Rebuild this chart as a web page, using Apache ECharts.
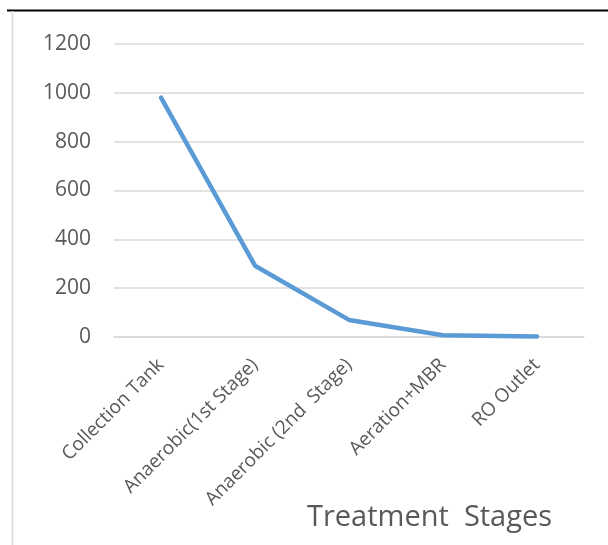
<!DOCTYPE html>
<html>
<head>
<meta charset="utf-8">
<script src="https://cdn.jsdelivr.net/npm/echarts@6/dist/echarts.min.js"></script>
<style>
  html, body { margin: 0; padding: 0; background: #ffffff; }
  #chart { width: 608px; height: 545px; }
</style>
</head>
<body>
<div id="chart"></div>
<script>
// Treatment stages along the x axis
const stages = ['Collection Tank', 'Anaerobic(1st Stage)', 'Anaerobic (2nd  Stage)', 'Aeration+MBR', 'RO Outlet'];
// Measured value at each stage
const values = [980, 292, 70, 7, 2];
// Value axis ticks
const yTicks = [0, 200, 400, 600, 800, 1000, 1200];

const chart = echarts.init(document.getElementById('chart'), null, { renderer: 'canvas' });
const font = '"Open Sans", "Liberation Sans", sans-serif';

chart.setOption({
  animation: false,
  backgroundColor: '#ffffff',
  title: {
    text: 'Treatment  Stages',
    left: 302,
    top: 498,
    textStyle: { fontFamily: font, fontSize: 29, fontWeight: 'normal', color: '#595959' }
  },
  grid: { left: 114, right: 24, top: 44, bottom: 208 },
  xAxis: {
    type: 'category',
    data: stages,
    boundaryGap: true,
    axisLine: { show: true, lineStyle: { color: '#d9d9d9', width: 1.5 } },
    axisTick: { show: false },
    axisLabel: {
      interval: 0,
      rotate: 45,
      margin: 25,
      fontFamily: font,
      fontSize: 19,
      color: '#595959'
    }
  },
  yAxis: {
    type: 'value',
    min: yTicks[0],
    max: yTicks[yTicks.length - 1],
    interval: 200,
    axisLine: { show: false },
    axisTick: { show: false },
    splitLine: { lineStyle: { color: '#d9d9d9', width: 1.5 } },
    axisLabel: {
      margin: 23,
      fontFamily: font,
      fontSize: 21,
      color: '#595959',
      formatter: (v) => String(v)
    }
  },
  series: [{
    type: 'line',
    data: values,
    symbol: 'none',
    lineStyle: { color: '#5b9bd5', width: 4.5, cap: 'round', join: 'round' }
  }],
  graphic: [
    { type: 'line', shape: { x1: 7, y1: 10.5, x2: 608, y2: 10.5 }, style: { stroke: '#000000', lineWidth: 2 } },
    { type: 'line', shape: { x1: 12.5, y1: 11, x2: 12.5, y2: 545 }, style: { stroke: '#d9d9d9', lineWidth: 1.5 } }
  ]
});
</script>
</body>
</html>
